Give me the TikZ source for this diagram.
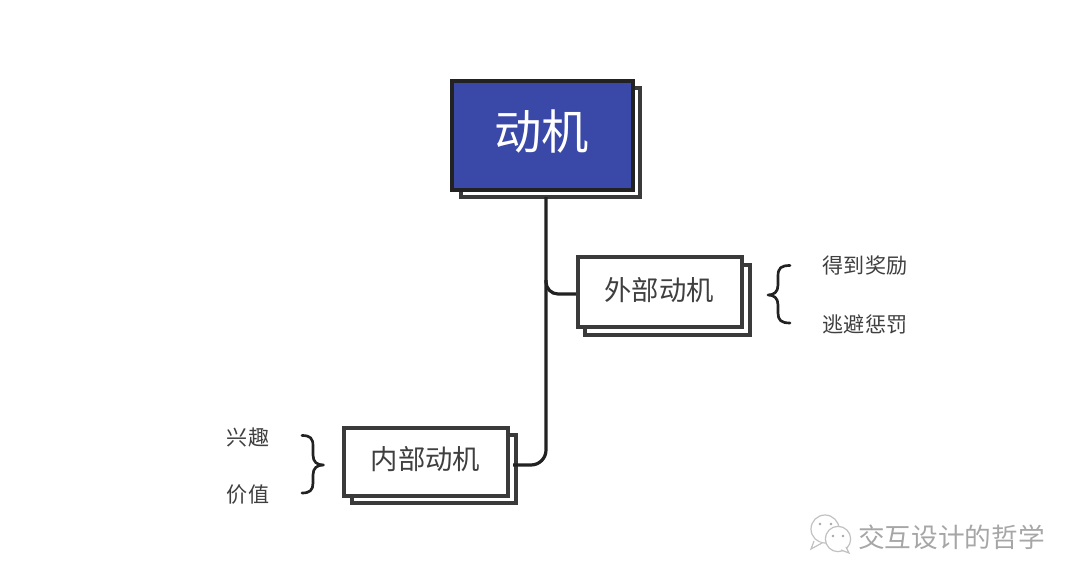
\documentclass[tikz,border=0pt]{standalone}
\usepackage{fontspec}
\newfontfamily\cjk{Noto Sans CJK SC}
\definecolor{mainblue}{HTML}{3A48A8}
\definecolor{inkc}{HTML}{222222}
\definecolor{edgec}{HTML}{3A3A3A}
\definecolor{textc}{HTML}{3F3F3F}
\definecolor{markc}{HTML}{A6A6A6}
\tikzset{
  x=0.75pt,y=-0.75pt,
  boxedge/.style={draw=edgec,line width=2.3pt,fill=white,inner sep=0pt,outer sep=0pt,anchor=north west},
  backedge/.style={boxedge},
  frontblue/.style={boxedge,draw=inkc,fill=mainblue},
  link/.style={draw=inkc,line width=2.4pt},
  bracepath/.style={draw=inkc,line width=2pt,line cap=round,line join=round},
  bigtitle/.style={font=\cjk\fontsize{35.5}{40}\selectfont,text=white,inner sep=0pt},
  midtitle/.style={font=\cjk\fontsize{20.5}{24}\selectfont,text=textc,inner sep=0pt},
  smalltext/.style={font=\cjk\fontsize{15.8}{18}\selectfont,text=textc,inner sep=0pt},
  marktext/.style={font=\cjk\fontsize{20}{24}\selectfont,text=markc,inner sep=0pt},
  bubble/.style={draw=markc!70,line width=0.9pt,fill=white},
}
\begin{document}
\begin{tikzpicture}
\useasboundingbox (0,0) rectangle (1080,585);
% back plates
\node[backedge,minimum width=134.25pt,minimum height=81.75pt] (mb) at (461,88) {};
\node[backedge,minimum width=123.75pt,minimum height=52.5pt] (eb) at (585,265) {};
\node[backedge,minimum width=123pt,minimum height=51pt] (ib) at (352,435) {};
% connector anchors
\coordinate (trunktop) at (546,197);
\coordinate (branch) at (546,280);
\coordinate (eport) at (578,294);
\coordinate (iport) at (513,465);
\draw[link,rounded corners=11.25pt] (trunktop) |- (iport);
\draw[link,rounded corners=9pt] (branch) |- (eport);
% front plates
\node[frontblue,minimum width=135.75pt,minimum height=81.75pt] (mf) at (452,81) {};
\node[boxedge,minimum width=123pt,minimum height=52.5pt] (ef) at (578,257) {};
\node[boxedge,minimum width=123pt,minimum height=51pt] (if) at (344,428) {};
% titles
\node[bigtitle] (mt) at (541.5,132) {动机};
\node[midtitle] (et) at (659,290.5) {外部动机};
\node[midtitle] (it) at (425.5,459.5) {内部动机};
% braces
\draw[bracepath] (790,265.5) .. controls (781,265.5) and (778,268) .. (778,276)
  -- (778,285) .. controls (778,292) and (774,295) .. (768,295)
  .. controls (774,295) and (778,298) .. (778,305)
  -- (778,313) .. controls (778,320) and (781,323) .. (790,323);
\draw[bracepath] (302,435.5) .. controls (310,435.5) and (313,438) .. (313,446)
  -- (313,455) .. controls (313,462) and (317,465) .. (323.5,465)
  .. controls (317,465) and (313,468) .. (313,475)
  -- (313,483) .. controls (313,490) and (310,493) .. (302,493);
% side labels
\node[smalltext] (e1) at (865,266) {得到奖励};
\node[smalltext] (e2) at (865,324) {逃避惩罚};
\node[smalltext] (i1) at (248,437) {兴趣};
\node[smalltext] (i2) at (248,495) {价值};
% watermark
\node[bubble,circle,minimum size=21pt,inner sep=0pt] (b1) at (825,529) {};
\draw[bubble] (814,541) -- (811,549) -- (822,543);
\fill[markc] (820,524) circle (1.1pt) (831,524) circle (1.1pt);
\node[bubble,circle,minimum size=19pt,inner sep=0pt] (b2) at (838,539) {};
\draw[bubble] (846,547) -- (849,553) -- (841,550);
\fill[markc] (833,536) circle (1.1pt) (843,536) circle (1.1pt);
\node[marktext] (wm) at (951.5,537) {交互设计的哲学};
\end{tikzpicture}
\end{document}
